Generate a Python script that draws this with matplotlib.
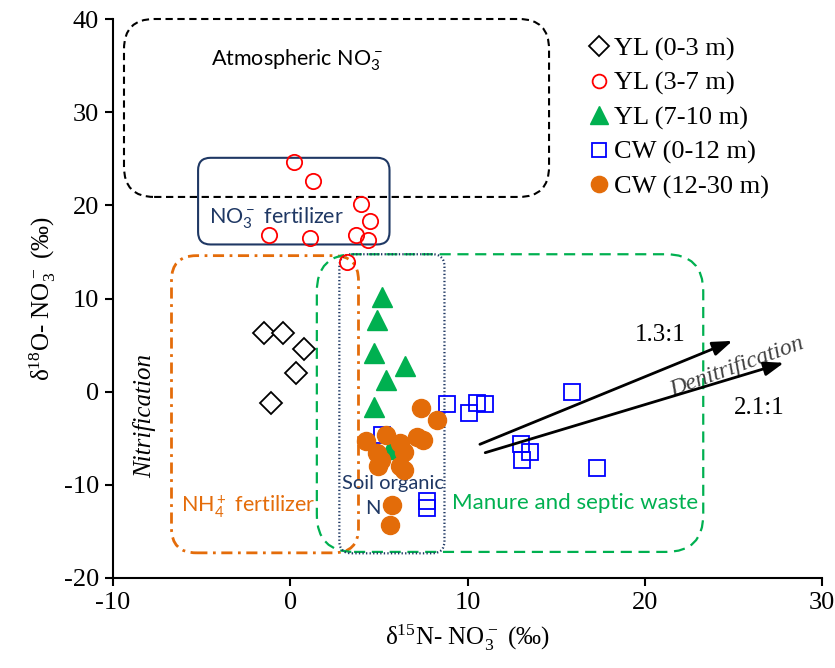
import matplotlib
matplotlib.use("Agg")
import matplotlib.pyplot as plt
from matplotlib.patches import FancyBboxPatch

# ---------------- data ----------------
yl03_x = [-1.5, -0.4, 0.8, 0.3, -1.1]
yl03_y = [6.3, 6.3, 4.6, 2.0, -1.2]

yl37_x = [0.2, 1.3, 4.0, 4.5, -1.2, 1.1, 3.7, 4.4, 3.2]
yl37_y = [24.6, 22.6, 20.1, 18.3, 16.8, 16.5, 16.8, 16.3, 13.9]

yl710_x = [5.2, 4.9, 4.7, 6.5, 5.4, 4.7, 5.6]
yl710_y = [10.2, 7.7, 4.1, 2.8, 1.2, -1.6, -6.2]

cw012_x = [8.85, 10.1, 10.55, 11.0, 15.9, 13.0, 13.55, 13.1, 17.3, 5.2, 7.7, 7.7]
cw012_y = [-1.3, -2.3, -1.2, -1.3, 0.0, -5.6, -6.5, -7.3, -8.2, -4.6, -11.7, -12.5]

cw1230_x = [7.4, 8.3, 4.3, 5.4, 6.2, 7.15, 7.5, 4.9, 5.1, 4.95, 6.4, 6.2, 6.4, 5.75, 5.6]
cw1230_y = [-1.7, -3.0, -5.3, -4.6, -5.5, -4.9, -5.2, -6.6, -7.3, -8.0, -6.5, -8.0, -8.4, -12.2, -14.3]

series_labels = ["YL (0-3 m)", "YL (3-7 m)", "YL (7-10 m)", "CW (0-12 m)", "CW (12-30 m)"]
x_ticks = [-10, 0, 10, 20, 30]
y_ticks = [-20, -10, 0, 10, 20, 30, 40]

# ---------------- figure ----------------
fig = plt.figure(figsize=(8.35, 6.68), dpi=100)
ax = fig.add_axes([113/835, 1-578/668, (822-113)/835, (578-19)/668])
ax.set_xlim(-10, 30)
ax.set_ylim(-20, 40)

SERIF = "Liberation Serif"
SANS = "Lato"

bb = ax.get_window_extent()
asp = (bb.width / 40.0) / (bb.height / 60.0)

def zone(x0, x1, y0, y1, r, color, lw, ls, clip=True):
    p = FancyBboxPatch((x0, y0), x1 - x0, y1 - y0,
                       boxstyle=f"round,pad=0,rounding_size={r}",
                       mutation_aspect=asp, fill=False, edgecolor=color,
                       linewidth=lw, linestyle=ls, zorder=1, clip_on=clip,
                       transform=ax.transData)
    ax.add_patch(p)

navy = "#1F3864"
orange = "#E46C0A"
green = "#00B050"

zone(-9.38, 14.6, 20.9, 40.0, 1.7, "black", 1.5, (0, (3.5, 2.2)), clip=False)
zone(-5.2, 5.6, 15.8, 25.1, 0.7, navy, 1.5, "-")
zone(-6.7, 3.85, -17.3, 14.6, 1.4, orange, 2.0, (0, (4, 2, 1, 2)))
zone(1.5, 23.3, -17.2, 14.75, 2.1, green, 1.6, (0, (5, 3)))
zone(2.77, 8.7, -17.35, 14.75, 0.7, navy, 1.6, (0, (0.6, 1.0)))

# ---------------- points ----------------
h1, = ax.plot(yl03_x, yl03_y, "D", ms=11, mfc="white", mec="black", mew=1.3, ls="none", zorder=3)
h2, = ax.plot(yl37_x, yl37_y, "o", ms=11, mfc="none", mec="#FF0000", mew=1.3, ls="none", zorder=3)
h3, = ax.plot(yl710_x, yl710_y, "^", ms=14, mfc=green, mec=green, ls="none", zorder=3)
h4, = ax.plot(cw012_x, cw012_y, "s", ms=11, mfc="none", mec="#0000FF", mew=1.3, ls="none", zorder=3)
h5, = ax.plot(cw1230_x, cw1230_y, "o", ms=13, mfc="#E36C09", mec="#E36C09", ls="none", zorder=4)

# ---------------- arrows ----------------
ax.annotate("", xy=(24.95, 5.45), xytext=(10.7, -5.65),
            arrowprops=dict(arrowstyle="-|>,head_length=0.7,head_width=0.25", lw=2.0,
                            color="black", mutation_scale=17, shrinkA=0, shrinkB=0), zorder=5)
ax.annotate("", xy=(27.85, 3.1), xytext=(11.0, -6.55),
            arrowprops=dict(arrowstyle="-|>,head_length=0.7,head_width=0.25", lw=2.0,
                            color="black", mutation_scale=17, shrinkA=0, shrinkB=0), zorder=5)

# ---------------- texts ----------------
ax.text(0.4, 35.6, r"Atmospheric $\mathregular{NO_3^-}$", family=SANS, fontsize=15.5,
        ha="center", va="center", color="black")
ax.text(-0.8, 18.6, r"$\mathregular{NO_3^-}$ fertilizer", family=SANS, fontsize=15.5,
        ha="center", va="center", color=navy)
ax.text(-2.37, -12.35, r"$\mathregular{NH_4^+}$ fertilizer", family=SANS, fontsize=15.5,
        ha="center", va="center", color=orange)
ax.text(5.79, -9.84, "Soil organic", family=SANS, fontsize=14.5, ha="center", va="center", color=navy)
ax.text(4.67, -12.52, "N", family=SANS, fontsize=14.5, ha="center", va="center", color=navy)
ax.text(16.06, -11.99, "Manure and septic waste", family=SANS, fontsize=16,
        ha="center", va="center", color=green)
ax.text(-8.19, -2.62, "Nitrification", family=SERIF, style="italic", fontsize=18,
        rotation=90, ha="center", va="center", color="black")
ax.text(25.18, 2.67, "Denitrification", family=SERIF, style="italic", fontsize=17,
        rotation=20, rotation_mode="anchor", ha="center", va="center", color="#404040")
ax.text(20.9, 6.07, "1.3:1", family=SERIF, fontsize=18, ha="center", va="center")
ax.text(26.46, -1.79, "2.1:1", family=SERIF, fontsize=18, ha="center", va="center")

# ---------------- axes ----------------
ax.set_xticks(x_ticks)
ax.set_yticks(y_ticks)
ax.set_xticklabels([str(v) for v in x_ticks], family=SERIF, fontsize=19)
ax.set_yticklabels([str(v) for v in y_ticks], family=SERIF, fontsize=19)
ax.tick_params(direction="out", length=6, width=1.5, pad=4)
for s in ["top", "right"]:
    ax.spines[s].set_visible(False)
for s in ["left", "bottom"]:
    ax.spines[s].set_linewidth(1.5)

ax.set_xlabel(r"δ$\mathregular{^{15}}$N- $\mathregular{NO_3^-}$ (‰)", family=SERIF, fontsize=18, labelpad=6)
ax.set_ylabel(r"δ$\mathregular{^{18}}$O- $\mathregular{NO_3^-}$ (‰)", family=SERIF, fontsize=18, labelpad=4)

leg = ax.legend([h1, h2, h3, h4, h5], series_labels, loc="upper left",
                bbox_to_anchor=((588-113)/709, (578-37)/559), frameon=False,
                prop={"family": SERIF, "size": 19}, handlelength=0.8,
                handletextpad=0.2, labelspacing=0.4, borderpad=0, borderaxespad=0,
                markerscale=0.9)

fig.savefig("out.png", dpi=100)
